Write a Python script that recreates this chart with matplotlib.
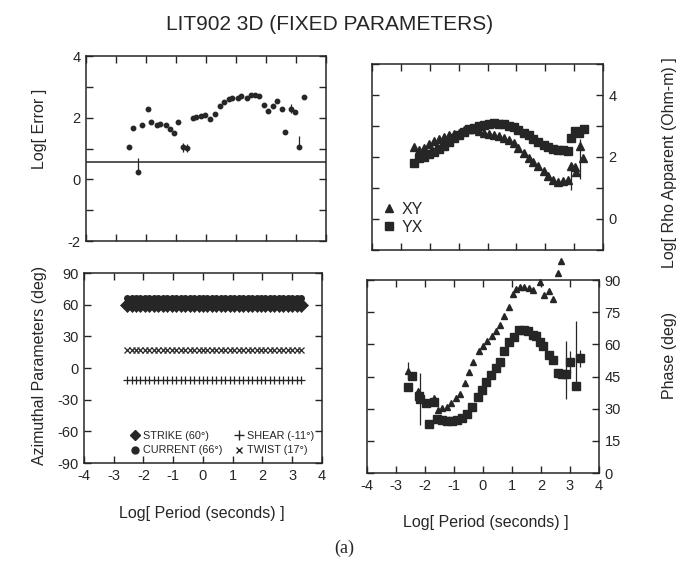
import numpy as np
import matplotlib
matplotlib.use("Agg")
import matplotlib.pyplot as plt
from matplotlib.lines import Line2D

plt.rcParams['font.family'] = ['Liberation Sans', 'DejaVu Sans']
plt.rcParams['axes.unicode_minus'] = False
INK = '#262626'

# --- Log error (top left) ---
err_period = [-2.56, -2.43, -2.28, -2.12, -1.93, -1.82, -1.65, -1.52, -1.34, -1.21,
              -1.06, -0.92, -0.76, -0.65, -0.45, -0.32, -0.16, -0.02, 0.14, 0.29,
              0.45, 0.59, 0.75, 0.88, 1.06, 1.17, 1.36, 1.51, 1.65, 1.78,
              1.95, 2.06, 2.23, 2.36, 2.54, 2.65, 2.84, 2.96, 3.09, 3.28]
log_err = [1.05, 1.68, 0.25, 1.75, 2.29, 1.85, 1.76, 1.79, 1.76, 1.63,
           1.51, 1.85, 1.04, 1.02, 1.98, 2.02, 2.06, 2.08, 1.97, 2.13,
           2.38, 2.52, 2.61, 2.64, 2.64, 2.70, 2.65, 2.74, 2.74, 2.69,
           2.41, 2.21, 2.38, 2.54, 2.28, 1.52, 2.29, 2.18, 1.04, 2.66]
err_lo = [0, 0, 0, 0, 0, 0, 0, 0, 0, 0, 0, 0, 0.15, 0.12, 0, 0, 0, 0, 0, 0,
          0, 0, 0, 0, 0, 0, 0, 0, 0, 0, 0, 0, 0, 0, 0, 0, 0.15, 0, 0, 0]
err_hi = [0, 0, 0.45, 0, 0, 0, 0, 0, 0, 0, 0, 0, 0.15, 0.12, 0, 0, 0, 0, 0, 0,
          0, 0, 0, 0, 0, 0, 0, 0, 0, 0, 0, 0, 0, 0, 0, 0, 0.15, 0, 0.35, 0]
err_level = 0.55

# --- apparent resistivity (top right) ---
rho_period = [-2.54, -2.37, -2.20, -2.03, -1.85, -1.68, -1.51, -1.34, -1.16, -0.99,
              -0.82, -0.65, -0.48, -0.30, -0.13, 0.04, 0.21, 0.39, 0.56, 0.73,
              0.90, 1.07, 1.25, 1.42, 1.59, 1.76, 1.94, 2.11, 2.28, 2.45,
              2.62, 2.80]
rho_xy = [2.31, 2.24, 2.30, 2.41, 2.53, 2.59, 2.65, 2.70, 2.74, 2.79,
          2.86, 2.91, 2.91, 2.84, 2.79, 2.74, 2.70, 2.67, 2.62, 2.55,
          2.44, 2.28, 2.13, 1.97, 1.83, 1.71, 1.55, 1.39, 1.25, 1.18,
          1.21, 1.25]
rho_yx = [1.80, 1.97, 2.01, 2.09, 2.15, 2.26, 2.37, 2.49, 2.60, 2.72,
          2.80, 2.89, 2.95, 3.01, 3.04, 3.07, 3.10, 3.08, 3.06, 3.01,
          2.97, 2.88, 2.78, 2.70, 2.59, 2.49, 2.40, 2.32, 2.26, 2.24,
          2.22, 2.20]
# long-period points carrying error bars
rho_xy_tail_period = [2.90, 3.03, 3.06, 3.20, 3.32]
rho_xy_tail = [1.70, 1.68, 1.50, 2.34, 1.96]
rho_xy_tail_lo = [0.75, 0, 0, 1.05, 0]
rho_xy_tail_hi = [0.10, 0, 0, 0.25, 0]
rho_yx_tail_period = [2.90, 3.03, 3.16, 3.33]
rho_yx_tail = [2.60, 2.83, 2.77, 2.89]

# --- phase (bottom right) ---
phase_xy_period = [-2.58, -2.25, -1.68, -1.56, -1.42, -1.25, -1.10, -0.93, -0.80, -0.63,
                   -0.49, -0.33, -0.15, 0.01, 0.14, 0.31, 0.45, 0.60, 0.74, 0.91,
                   1.03, 1.15, 1.29, 1.43, 1.58, 1.74, 1.97, 2.09, 2.26, 2.42,
                   2.60, 2.70]
phase_xy = [47.7, 38.4, 34.9, 29.3, 30.1, 31.0, 32.6, 35.0, 36.7, 41.9,
            47.0, 51.8, 56.7, 59.1, 61.5, 63.9, 66.3, 69.2, 73.4, 77.5,
            83.5, 86.0, 86.6, 86.8, 86.4, 85.5, 89.3, 83.1, 84.7, 81.3,
            93.2, 98.7]
phase_xy_err = [4, 0, 0, 0, 0, 0, 0, 0, 0, 0, 0, 0, 0, 0, 0, 0,
                0, 0, 0, 0, 0, 0, 0, 0, 0, 0, 0, 0, 0, 0, 0, 0]
phase_yx_period = [-2.57, -2.46, -2.22, -2.17, -1.98, -1.85, -1.68, -1.57, -1.40, -1.23,
                   -1.06, -0.89, -0.72, -0.54, -0.37, -0.16, -0.04, 0.12, 0.28, 0.44,
                   0.57, 0.74, 0.91, 1.07, 1.25, 1.41, 1.55, 1.73, 1.84, 1.96,
                   2.08, 2.26, 2.41, 2.59, 2.74, 2.85, 3.00, 3.20, 3.33]
phase_yx = [39.9, 45.4, 36.1, 34.6, 32.6, 22.9, 33.2, 25.4, 24.6, 24.2,
            24.3, 24.9, 25.7, 27.4, 30.6, 35.4, 38.5, 42.6, 45.8, 49.0,
            51.7, 57.0, 61.3, 63.4, 66.7, 66.7, 66.0, 64.5, 63.8, 61.1,
            59.2, 55.0, 52.7, 46.8, 46.4, 46.4, 51.7, 40.8, 53.5]
phase_yx_lo = [0, 0, 0, 12, 0, 0, 0, 0, 0, 0, 0, 0, 0, 0, 0, 0, 0, 0, 0, 0,
               0, 0, 0, 0, 0, 0, 0, 0, 0, 0, 0, 0, 0, 0, 0, 12, 5, 0, 4]
phase_yx_hi = [0, 0, 0, 12, 0, 0, 0, 0, 0, 0, 0, 0, 0, 0, 0, 0, 0, 0, 0, 0,
               0, 0, 0, 0, 0, 0, 0, 0, 0, 0, 0, 0, 0, 0, 0, 15, 5, 30, 4]

# --- azimuthal parameters (bottom left) ---
az_period = [-2.55, -2.40, -2.25, -2.10, -1.95, -1.80, -1.65, -1.50, -1.35, -1.20,
             -1.05, -0.90, -0.75, -0.60, -0.45, -0.30, -0.15, 0.00, 0.15, 0.30,
             0.45, 0.60, 0.75, 0.90, 1.05, 1.20, 1.35, 1.50, 1.65, 1.80,
             1.95, 2.10, 2.25, 2.40, 2.55, 2.70, 2.85, 3.00, 3.15, 3.30]
strike, current, shear, twist = 60, 66, -11, 17


def style_axes(ax, left, right, bottom):
    ax.tick_params(direction='in', top=True, right=True, length=5, width=1,
                   labelsize=10.5, colors=INK, pad=4,
                   labelleft=left, labelright=right, labelbottom=bottom)
    for s in ax.spines.values():
        s.set_linewidth(1.1)
        s.set_color(INK)
    ax.set_xlim(-4, 4)
    ax.set_xticks(range(-4, 5))


fig = plt.figure(figsize=(6.81, 5.71), dpi=100)

ax_err = fig.add_axes([0.1263, 0.5779, 0.3524, 0.3240])
ax_rho = fig.add_axes([0.5463, 0.5622, 0.3392, 0.3257])
ax_az = fig.add_axes([0.1233, 0.1891, 0.3495, 0.3327])
ax_ph = fig.add_axes([0.5389, 0.1716, 0.3407, 0.3380])

# top left
style_axes(ax_err, True, False, False)
ax_err.set_ylim(-2, 4)
ax_err.set_yticks(range(-2, 5))
ax_err.set_yticklabels(['-2', '', '0', '', '2', '', '4'])
ax_err.axhline(err_level, color=INK, lw=1.1)
ax_err.errorbar(err_period, log_err, yerr=[err_lo, err_hi], fmt='o', ms=3.2,
                color=INK, ecolor=INK, elinewidth=0.9, capsize=0)

# top right
style_axes(ax_rho, False, True, False)
ax_rho.set_ylim(-1, 5)
ax_rho.set_yticks(range(-1, 6))
ax_rho.set_yticklabels(['', '0', '', '2', '', '4', ''])
ax_rho.plot(rho_period, rho_xy, '^', ms=5.5, color=INK, ls='none')
ax_rho.plot(rho_period, rho_yx, 's', ms=5.5, color=INK, ls='none')
ax_rho.errorbar(rho_xy_tail_period, rho_xy_tail, yerr=[rho_xy_tail_lo, rho_xy_tail_hi],
                fmt='^', ms=5.5, color=INK, elinewidth=0.9, capsize=0)
ax_rho.plot(rho_yx_tail_period, rho_yx_tail, 's', ms=5.5, color=INK, ls='none')
rho_handles = [Line2D([], [], marker='^', ls='none', ms=6, color=INK, label='XY'),
               Line2D([], [], marker='s', ls='none', ms=6, color=INK, label='YX')]
ax_rho.legend(handles=rho_handles, loc='lower left', bbox_to_anchor=(-0.01, 0.03),
              frameon=False, fontsize=11.5, handletextpad=0.2, handlelength=1.2,
              labelspacing=0.2, borderaxespad=0.2, labelcolor=INK)

# bottom left
style_axes(ax_az, True, False, True)
ax_az.set_ylim(-90, 90)
ax_az.set_yticks(range(-90, 91, 30))
ax_az.plot(az_period, [current] * len(az_period), 'o', ms=4, color=INK, ls='none')
ax_az.plot(az_period, [strike] * len(az_period), 'D', ms=7.5, color=INK, mew=0.5,
           mec=INK, ls='none')
ax_az.plot(az_period, [twist] * len(az_period), 'x', ms=4, mew=0.9, color=INK, ls='none')
ax_az.plot(az_period, [shear] * len(az_period), '+', ms=6, mew=0.9, color=INK, ls='none')
az_handles = [Line2D([], [], marker='D', ls='none', ms=5, color=INK, label='STRIKE (60°)'),
              Line2D([], [], marker='o', ls='none', ms=5, color=INK, label='CURRENT (66°)'),
              Line2D([], [], marker='+', ls='none', ms=7, mew=1, color=INK, label='SHEAR (-11°)'),
              Line2D([], [], marker='x', ls='none', ms=5, mew=1, color=INK, label='TWIST (17°)')]
ax_az.legend(handles=az_handles, ncol=2, loc='lower left', bbox_to_anchor=(0.16, 0.0),
             frameon=False, fontsize=7.8, handletextpad=0.2, handlelength=1.0,
             columnspacing=1.1, labelspacing=0.45, borderaxespad=0.3, labelcolor=INK)

# bottom right
style_axes(ax_ph, False, True, True)
ax_ph.set_ylim(0, 90)
ax_ph.set_yticks(range(0, 91, 15))
ax_ph.errorbar(phase_xy_period, phase_xy, yerr=phase_xy_err, fmt='^', ms=4.5,
               color=INK, elinewidth=0.9, capsize=0, clip_on=False)
ax_ph.errorbar(phase_yx_period, phase_yx, yerr=[phase_yx_lo, phase_yx_hi], fmt='s',
               ms=5.5, color=INK, elinewidth=0.9, capsize=0)

# text
fig.text(0.484, 0.957, 'LIT902 3D (FIXED PARAMETERS)', ha='center', va='center',
         fontsize=15, color=INK)
fig.text(0.058, 0.775, 'Log[ Error ]', rotation=90, ha='center', va='center',
         fontsize=11.5, color=INK)
fig.text(0.058, 0.36, 'Azimuthal Parameters (deg)', rotation=90, ha='center',
         va='center', fontsize=11.5, color=INK)
fig.text(0.983, 0.715, 'Log[ Rho Apparent (Ohm-m) ]', rotation=90, ha='center',
         va='center', fontsize=11.5, color=INK)
fig.text(0.983, 0.378, 'Phase (deg)', rotation=90, ha='center', va='center',
         fontsize=11.5, color=INK)
fig.text(0.297, 0.100, 'Log[ Period (seconds) ]', ha='center', va='center',
         fontsize=11.5, color=INK)
fig.text(0.714, 0.085, 'Log[ Period (seconds) ]', ha='center', va='center',
         fontsize=11.5, color=INK)
fig.text(0.506, 0.040, '(a)', ha='center', va='center', fontsize=13, color=INK,
         family=['Liberation Serif', 'DejaVu Serif'])

fig.savefig('out.png', dpi=100, facecolor='white')
